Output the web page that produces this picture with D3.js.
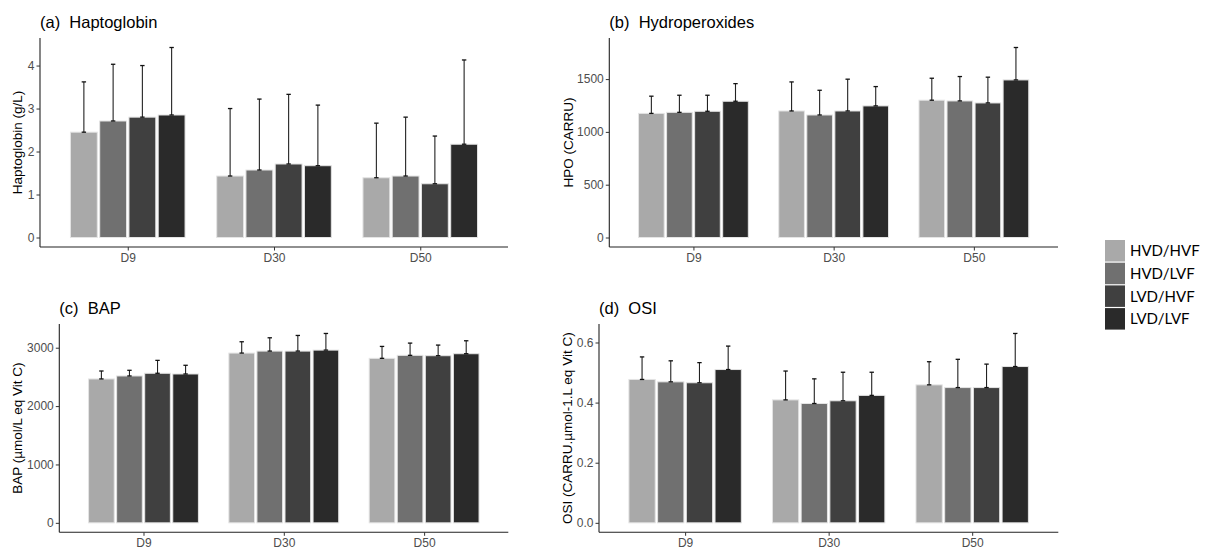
<!DOCTYPE html>
<html><head><meta charset="utf-8">
<script src="https://cdn.jsdelivr.net/npm/d3@7"></script>
<style>
html,body{margin:0;padding:0;background:#fff;}
svg{display:block;}
text{font-family:"Liberation Sans",Arial,sans-serif;}
</style></head>
<body>
<svg id="chart" width="1211" height="551"></svg>
<script>
const categories = ["D9","D30","D50"];
const groups = ["HVD/HVF","HVD/LVF","LVD/HVF","LVD/LVF"];
const colors = ["#a9a9a9","#707070","#404040","#2a2a2a"];

// Haptoglobin (g/L): means and upper error ends, per category, per group
const hapMean  = [[2.45,2.71,2.80,2.85],[1.43,1.57,1.71,1.67],[1.39,1.43,1.25,2.17]];
const hapUpper = [[3.62,4.03,4.00,4.42],[3.00,3.22,3.33,3.08],[2.66,2.80,2.36,4.13]];
const hapTicks = [0,1,2,3,4];

// Hydroperoxides (CARRU)
const hpoMean  = [[1175,1185,1195,1290],[1198,1160,1198,1246],[1300,1293,1274,1492]];
const hpoUpper = [[1338,1347,1347,1457],[1473,1394,1499,1429],[1508,1524,1518,1799]];
const hpoTicks = [0,500,1000,1500];

// BAP (µmol/L eq Vit C)
const bapMean  = [[2465,2516,2562,2550],[2908,2942,2942,2959],[2818,2869,2863,2897]];
const bapUpper = [[2601,2613,2783,2699],[3102,3170,3210,3244],[3022,3079,3045,3119]];
const bapTicks = [0,1000,2000,3000];

// OSI (CARRU.µmol-1.L eq Vit C)
const osiMean  = [[0.477,0.469,0.466,0.510],[0.409,0.397,0.406,0.424],[0.459,0.450,0.450,0.520]];
const osiUpper = [[0.552,0.539,0.533,0.588],[0.505,0.479,0.501,0.501],[0.536,0.544,0.528,0.630]];
const osiTicks = [0.0,0.2,0.4,0.6];

const svg = d3.select("#chart");

function panel(cfg){
  const {mean, upper, ticks, fmt, title, ylab, x0, x1, yb, yt, labelX} = cfg;
  const maxV = d3.max(upper.flat());
  const y = d3.scaleLinear().domain([-0.05*maxV, 1.05*maxV]).range([yb, yt]);
  const x = d3.scalePoint().domain(categories).range([x0, x1]).padding(0.6);
  const step = x.step();
  const xs = d3.scaleBand().domain(groups).range([-0.4*step, 0.4*step]);
  const g = svg.append("g");

  // bars
  categories.forEach((c, ci) => {
    groups.forEach((gr, gi) => {
      const left = x(c) + xs(gr);
      g.append("rect")
        .attr("x", left + 1.2)
        .attr("width", xs.bandwidth() - 2.4)
        .attr("y", y(mean[ci][gi]))
        .attr("height", y(0) - y(mean[ci][gi]))
        .attr("fill", colors[gi])
        .attr("stroke", "#e4e4e4")
        .attr("stroke-width", 1);
    });
  });
  // error bars
  categories.forEach((c, ci) => {
    groups.forEach((gr, gi) => {
      const cx = x(c) + xs(gr) + xs.bandwidth()/2;
      const yT = y(upper[ci][gi]), yM = y(mean[ci][gi]);
      g.append("line").attr("x1", cx).attr("x2", cx).attr("y1", yM).attr("y2", yT)
        .attr("stroke", "#222").attr("stroke-width", 1.1);
      [yT, yM].forEach(yy => {
        g.append("line").attr("x1", cx-2.2).attr("x2", cx+2.2).attr("y1", yy).attr("y2", yy)
          .attr("stroke", "#111").attr("stroke-width", 1.3);
      });
    });
  });

  // y axis
  const ya = d3.axisLeft(y).tickValues(ticks).tickSize(3.5).tickPadding(2).tickFormat(fmt);
  const yg = g.append("g").attr("transform", `translate(${x0},0)`).call(ya);
  yg.select(".domain").attr("d", `M0,${yt}V${yb}`).attr("stroke", "#222").attr("stroke-width", 1.1);
  yg.selectAll(".tick line").attr("stroke", "#333");
  yg.selectAll(".tick text").attr("fill", "#4d4d4d").style("font-size", "12px");

  // x axis
  const xa = d3.axisBottom(x).tickSize(3.5).tickPadding(3);
  const xg = g.append("g").attr("transform", `translate(0,${yb})`).call(xa);
  xg.select(".domain").attr("d", `M${x0},0H${x1}`).attr("stroke", "#222").attr("stroke-width", 1.1);
  xg.selectAll(".tick line").attr("stroke", "#333");
  xg.selectAll(".tick text").attr("fill", "#4d4d4d").style("font-size", "12px");

  // title
  g.append("text").attr("x", x0).attr("y", yt - 10)
    .style("font-size", "16.5px").style("white-space", "pre").attr("fill", "#000")
    .text(title);
  // y label
  g.append("text")
    .attr("transform", `translate(${labelX},${(yt+yb)/2}) rotate(-90)`)
    .attr("text-anchor", "middle").attr("dy", "0.35em")
    .style("font-size", "13.5px").attr("fill", "#000")
    .text(ylab);
}

panel({mean: hapMean, upper: hapUpper, ticks: hapTicks, fmt: d3.format("d"),
  title: "(a)  Haptoglobin", ylab: "Haptoglobin (g/L)",
  x0: 40, x1: 508, yb: 247, yt: 38, labelX: 17});
panel({mean: hpoMean, upper: hpoUpper, ticks: hpoTicks, fmt: d3.format("d"),
  title: "(b)  Hydroperoxides", ylab: "HPO (CARRU)",
  x0: 609.3, x1: 1058, yb: 247, yt: 38, labelX: 568});
panel({mean: bapMean, upper: bapUpper, ticks: bapTicks, fmt: d3.format("d"),
  title: "(c)  BAP", ylab: "BAP (µmol/L eq Vit C)",
  x0: 59.3, x1: 508.3, yb: 532.3, yt: 324, labelX: 17});
panel({mean: osiMean, upper: osiUpper, ticks: osiTicks, fmt: d3.format(".1f"),
  title: "(d)  OSI", ylab: "OSI (CARRU.µmol-1.L eq Vit C)",
  x0: 599, x1: 1058.3, yb: 532.3, yt: 324, labelX: 567});

// legend
const leg = svg.append("g").attr("transform", "translate(1105,240)");
groups.forEach((gr, i) => {
  leg.append("rect").attr("x", 0).attr("y", i*22.7).attr("width", 20).attr("height", 21.5)
    .attr("fill", colors[i]);
  leg.append("text").attr("x", 25).attr("y", i*22.7 + 11).attr("dy", "0.35em")
    .style("font-family", "Lato, 'Open Sans', sans-serif").style("font-size", "15px")
    .attr("fill", "#000").text(gr);
});
</script>
</body></html>
